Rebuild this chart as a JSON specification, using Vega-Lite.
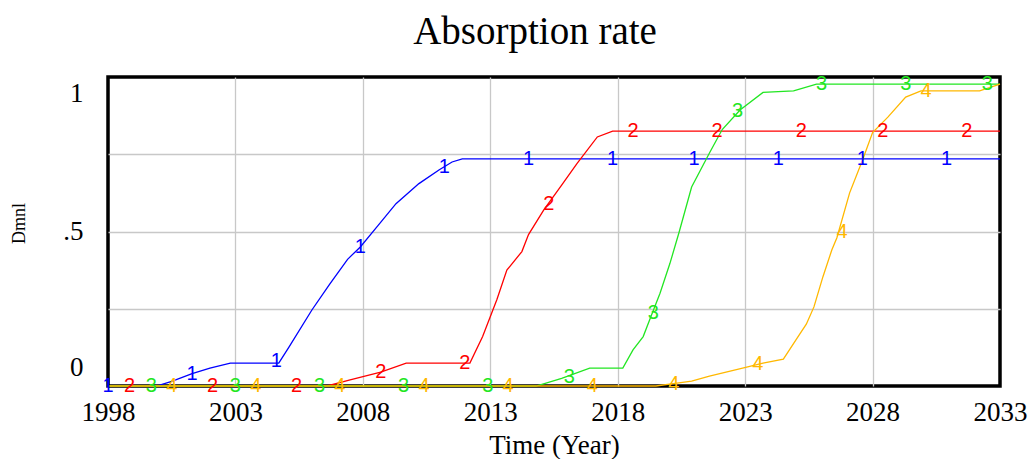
{
  "$schema": "https://vega.github.io/schema/vega-lite/v6.json",
  "autosize": {"type": "none"},
  "padding": {"left": 108, "top": 77, "right": 30, "bottom": 73},
  "width": 892,
  "height": 309,
  "background": "white",
  "title": {
    "text": "Absorption rate",
    "font": "Liberation Serif",
    "fontSize": 39,
    "fontWeight": "normal",
    "color": "black",
    "anchor": "middle",
    "frame": "group",
    "baseline": "alphabetic",
    "offset": 31,
    "dx": -19,
    "dy": 40
  },
  "config": {
    "view": {"stroke": "black", "strokeWidth": 3.5},
    "axis": {
      "gridColor": "#c8c8c8",
      "gridWidth": 1.3,
      "domain": false,
      "ticks": false,
      "tickSize": 0,
      "labelFont": "Liberation Serif",
      "labelFontSize": 27,
      "labelColor": "black",
      "titleFont": "Liberation Serif",
      "titleColor": "black",
      "titleFontWeight": "normal"
    }
  },
  "datasets": {
    "lines": [
      {"year": 1998, "value": 0, "series": "1"},
      {"year": 1999.9, "value": 0, "series": "1"},
      {"year": 2000.5, "value": 0.015, "series": "1"},
      {"year": 2001.3, "value": 0.04, "series": "1"},
      {"year": 2002.0, "value": 0.058, "series": "1"},
      {"year": 2002.8, "value": 0.074, "series": "1"},
      {"year": 2004.7, "value": 0.074, "series": "1"},
      {"year": 2005.1, "value": 0.126, "series": "1"},
      {"year": 2006.0, "value": 0.246, "series": "1"},
      {"year": 2006.7, "value": 0.33, "series": "1"},
      {"year": 2007.4, "value": 0.41, "series": "1"},
      {"year": 2007.9, "value": 0.45, "series": "1"},
      {"year": 2008.6, "value": 0.52, "series": "1"},
      {"year": 2009.3, "value": 0.59, "series": "1"},
      {"year": 2010.2, "value": 0.655, "series": "1"},
      {"year": 2011.0, "value": 0.70, "series": "1"},
      {"year": 2011.5, "value": 0.725, "series": "1"},
      {"year": 2011.9, "value": 0.735, "series": "1"},
      {"year": 2033, "value": 0.735, "series": "1"},
      {"year": 1998, "value": 0, "series": "2"},
      {"year": 2006.6, "value": 0, "series": "2"},
      {"year": 2007.5, "value": 0.02, "series": "2"},
      {"year": 2008.7, "value": 0.045, "series": "2"},
      {"year": 2009.7, "value": 0.074, "series": "2"},
      {"year": 2012.2, "value": 0.074, "series": "2"},
      {"year": 2012.7, "value": 0.16, "series": "2"},
      {"year": 2013.26, "value": 0.28, "series": "2"},
      {"year": 2013.65, "value": 0.375, "series": "2"},
      {"year": 2014.24, "value": 0.435, "series": "2"},
      {"year": 2014.5, "value": 0.49, "series": "2"},
      {"year": 2015.1, "value": 0.57, "series": "2"},
      {"year": 2015.8, "value": 0.65, "series": "2"},
      {"year": 2016.4, "value": 0.72, "series": "2"},
      {"year": 2017.2, "value": 0.806, "series": "2"},
      {"year": 2017.8, "value": 0.825, "series": "2"},
      {"year": 2033, "value": 0.825, "series": "2"},
      {"year": 1998, "value": 0, "series": "3"},
      {"year": 2014.8, "value": 0, "series": "3"},
      {"year": 2015.8, "value": 0.025, "series": "3"},
      {"year": 2016.9, "value": 0.058, "series": "3"},
      {"year": 2018.2, "value": 0.058, "series": "3"},
      {"year": 2018.6, "value": 0.117, "series": "3"},
      {"year": 2019.0, "value": 0.16, "series": "3"},
      {"year": 2019.3, "value": 0.224, "series": "3"},
      {"year": 2019.66, "value": 0.30, "series": "3"},
      {"year": 2020.05, "value": 0.397, "series": "3"},
      {"year": 2020.4, "value": 0.495, "series": "3"},
      {"year": 2020.9, "value": 0.644, "series": "3"},
      {"year": 2021.6, "value": 0.754, "series": "3"},
      {"year": 2022.1, "value": 0.83, "series": "3"},
      {"year": 2022.8, "value": 0.893, "series": "3"},
      {"year": 2023.7, "value": 0.95, "series": "3"},
      {"year": 2024.9, "value": 0.955, "series": "3"},
      {"year": 2025.8, "value": 0.977, "series": "3"},
      {"year": 2033, "value": 0.977, "series": "3"},
      {"year": 1998, "value": 0, "series": "4"},
      {"year": 2019.5, "value": 0, "series": "4"},
      {"year": 2020.4, "value": 0.01, "series": "4"},
      {"year": 2020.9, "value": 0.016, "series": "4"},
      {"year": 2021.6, "value": 0.032, "series": "4"},
      {"year": 2022.9, "value": 0.058, "series": "4"},
      {"year": 2023.7, "value": 0.074, "series": "4"},
      {"year": 2024.5, "value": 0.087, "series": "4"},
      {"year": 2025.0, "value": 0.15, "series": "4"},
      {"year": 2025.4, "value": 0.2, "series": "4"},
      {"year": 2025.7, "value": 0.256, "series": "4"},
      {"year": 2026.05, "value": 0.353, "series": "4"},
      {"year": 2026.4, "value": 0.44, "series": "4"},
      {"year": 2026.6, "value": 0.48, "series": "4"},
      {"year": 2027.1, "value": 0.625, "series": "4"},
      {"year": 2027.6, "value": 0.73, "series": "4"},
      {"year": 2028.0, "value": 0.82, "series": "4"},
      {"year": 2028.6, "value": 0.87, "series": "4"},
      {"year": 2029.3, "value": 0.935, "series": "4"},
      {"year": 2029.9, "value": 0.955, "series": "4"},
      {"year": 2032.2, "value": 0.955, "series": "4"},
      {"year": 2033, "value": 0.977, "series": "4"}
    ],
    "markers": [
      {"year": 1998.0, "value": 0, "series": "1"},
      {"year": 2001.3, "value": 0.04, "series": "1"},
      {"year": 2004.6, "value": 0.08, "series": "1"},
      {"year": 2007.9, "value": 0.45, "series": "1"},
      {"year": 2011.2, "value": 0.71, "series": "1"},
      {"year": 2014.5, "value": 0.735, "series": "1"},
      {"year": 2017.8, "value": 0.735, "series": "1"},
      {"year": 2021.0, "value": 0.735, "series": "1"},
      {"year": 2024.3, "value": 0.735, "series": "1"},
      {"year": 2027.6, "value": 0.735, "series": "1"},
      {"year": 2030.9, "value": 0.735, "series": "1"},
      {"year": 1998.85, "value": 0, "series": "2"},
      {"year": 2002.1, "value": 0, "series": "2"},
      {"year": 2005.4, "value": 0, "series": "2"},
      {"year": 2008.7, "value": 0.045, "series": "2"},
      {"year": 2012.0, "value": 0.074, "series": "2"},
      {"year": 2015.3, "value": 0.59, "series": "2"},
      {"year": 2018.6, "value": 0.825, "series": "2"},
      {"year": 2021.9, "value": 0.825, "series": "2"},
      {"year": 2025.2, "value": 0.825, "series": "2"},
      {"year": 2028.4, "value": 0.825, "series": "2"},
      {"year": 2031.7, "value": 0.825, "series": "2"},
      {"year": 1999.7, "value": 0, "series": "3"},
      {"year": 2003.0, "value": 0, "series": "3"},
      {"year": 2006.3, "value": 0, "series": "3"},
      {"year": 2009.6, "value": 0, "series": "3"},
      {"year": 2012.9, "value": 0, "series": "3"},
      {"year": 2016.1, "value": 0.03, "series": "3"},
      {"year": 2019.4, "value": 0.236, "series": "3"},
      {"year": 2022.7, "value": 0.89, "series": "3"},
      {"year": 2026.0, "value": 0.977, "series": "3"},
      {"year": 2029.3, "value": 0.977, "series": "3"},
      {"year": 2032.5, "value": 0.977, "series": "3"},
      {"year": 2000.5, "value": 0, "series": "4"},
      {"year": 2003.8, "value": 0, "series": "4"},
      {"year": 2007.1, "value": 0, "series": "4"},
      {"year": 2010.4, "value": 0, "series": "4"},
      {"year": 2013.7, "value": 0, "series": "4"},
      {"year": 2017.0, "value": 0, "series": "4"},
      {"year": 2020.2, "value": 0.008, "series": "4"},
      {"year": 2023.5, "value": 0.07, "series": "4"},
      {"year": 2026.8, "value": 0.5, "series": "4"},
      {"year": 2030.1, "value": 0.955, "series": "4"}
    ]
  },
  "encoding": {
    "x": {
      "field": "year",
      "type": "quantitative",
      "scale": {"domain": [1998, 2033], "nice": false, "zero": false},
      "axis": {
        "values": [1998, 2003, 2008, 2013, 2018, 2023, 2028, 2033],
        "format": "d",
        "labelFlush": false,
        "labelOverlap": false,
        "labelBaseline": "alphabetic",
        "labelPadding": 34,
        "gridOpacity": {"expr": "datum.value == 1998 || datum.value == 2033 ? 0 : 1"},
        "title": "Time (Year)",
        "titleFontSize": 27,
        "titleX": 446,
        "titleY": 67,
        "titleAlign": "center",
        "titleBaseline": "alphabetic"
      }
    },
    "y": {
      "field": "value",
      "type": "quantitative",
      "scale": {"domain": [0, 1], "nice": false, "zero": false},
      "axis": {
        "values": [0, 0.25, 0.5, 0.75, 1],
        "labelExpr": "datum.value == 1 ? '1' : datum.value == 0.5 ? '.5' : datum.value == 0 ? '0' : ''",
        "labelBaseline": "middle",
        "labelPadding": 25,
        "labelOffset": {"expr": "datum.value == 1 ? 16 : datum.value == 0 ? -19 : 0"},
        "gridOpacity": {"expr": "datum.value == 0 || datum.value == 1 ? 0 : 1"},
        "title": "Dmnl",
        "titleFontSize": 18,
        "titleAngle": -90,
        "titleX": -89,
        "titleY": 146,
        "titleAlign": "center",
        "titleBaseline": "middle"
      }
    },
    "color": {
      "field": "series",
      "type": "nominal",
      "scale": {"domain": ["1", "2", "3", "4"], "range": ["#0000FF", "#FF0000", "#22E622", "#FFB800"]},
      "legend": null
    }
  },
  "layer": [
    {
      "data": {"name": "lines"},
      "mark": {"type": "line", "strokeWidth": 1.3, "interpolate": "linear"}
    },
    {
      "data": {"name": "markers"},
      "mark": {"type": "text", "font": "Liberation Sans", "fontSize": 20, "baseline": "middle", "align": "center"},
      "encoding": {"text": {"field": "series", "type": "nominal"}}
    }
  ]
}
